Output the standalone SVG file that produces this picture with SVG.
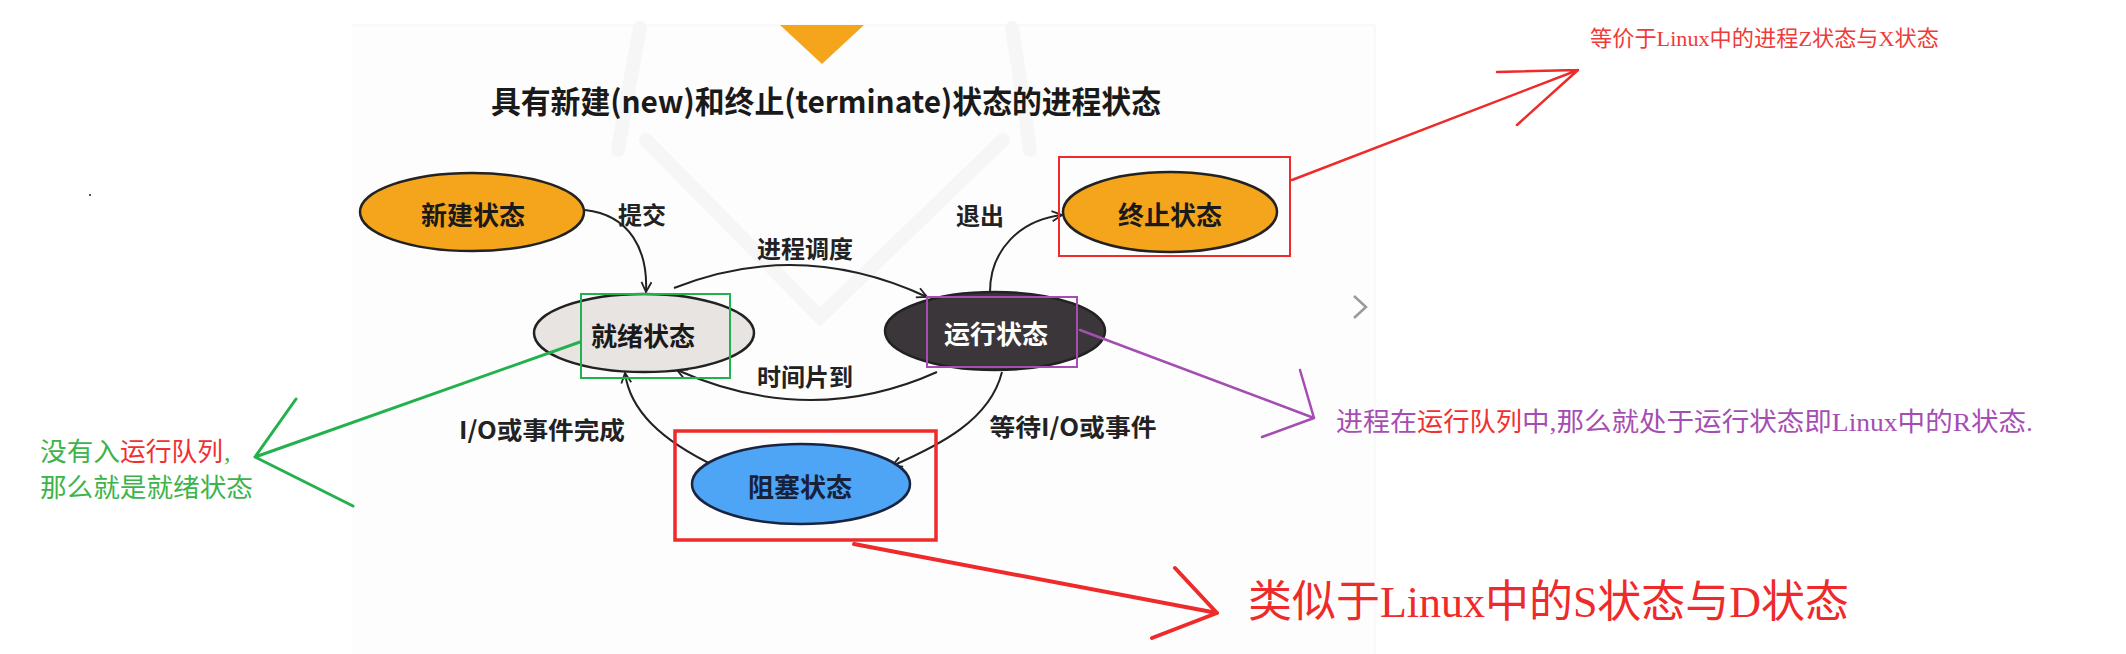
<svg xmlns="http://www.w3.org/2000/svg" width="2126" height="654" viewBox="0 0 2126 654">
<defs>
<style>
.node{stroke:#222;stroke-width:2.5}
.nt{font-family:"Noto Sans CJK SC","Noto Sans",sans-serif;font-weight:700;font-size:26px;text-anchor:middle;dominant-baseline:central;fill:#1a1a1a}
.lbl{font-family:"Noto Sans CJK SC","Noto Sans",sans-serif;font-weight:700;font-size:24px;text-anchor:middle;dominant-baseline:central;fill:#222}
.con{fill:none;stroke:#222;stroke-width:2}
.ann{font-family:"Liberation Serif","Noto Sans CJK SC",serif;dominant-baseline:central}
.pen{fill:none;stroke-linecap:round;stroke-linejoin:round}
</style>
<marker id="ah" viewBox="0 0 12 12" refX="11" refY="6" markerWidth="12" markerHeight="12" markerUnits="userSpaceOnUse" orient="auto">
<path d="M1,1 L11,6 L1,11" fill="none" stroke="#222" stroke-width="1.8"/>
</marker>
</defs>
<rect width="2126" height="654" fill="#ffffff"/>
<!-- screenshot panel -->
<rect x="352" y="25" width="1023" height="629" fill="#fdfdfd"/>
<line x1="352" y1="25" x2="1375" y2="25" stroke="#f2f2f2" stroke-width="1"/>
<line x1="1375" y1="25" x2="1375" y2="654" stroke="#f3f3f3" stroke-width="1"/>
<!-- faint watermark -->
<g fill="none" stroke="#f6f6f6" stroke-width="14" stroke-linecap="round">
<polyline points="646,140 820,317 1003,140"/>
<path d="M640,28 Q628,90 618,150"/>
<path d="M1012,28 Q1022,90 1030,150"/>
</g>
<polygon points="780,25 864,25 822,64" fill="#f5a51c"/>
<text x="491" y="99" font-family="Noto Sans CJK SC,Noto Sans,sans-serif" font-weight="700" font-size="31" fill="#1a1a1a" dominant-baseline="central" textLength="670" lengthAdjust="spacingAndGlyphs">具有新建(new)和终止(terminate)状态的进程状态</text>
<polyline points="1354,296 1366,307 1354,318" fill="none" stroke="#9a9a9a" stroke-width="2.5"/>
<rect x="89" y="194" width="2" height="2" fill="#555"/>

<g id="connectors">
<path class="con" d="M585,210 C630,215 648,250 646,292" marker-end="url(#ah)"/>
<path class="con" d="M674,288 Q800,238 927,297" marker-end="url(#ah)"/>
<path class="con" d="M937,372 Q810,429 677,370" marker-end="url(#ah)"/>
<path class="con" d="M990,292 C990,250 1020,220 1062,215" marker-end="url(#ah)"/>
<path class="con" d="M1002,372 C990,420 940,445 892,466" marker-end="url(#ah)"/>
<path class="con" d="M717,467 C660,440 630,410 625,373" marker-end="url(#ah)"/>
<text class="lbl" x="642" y="213">提交</text>
<text class="lbl" x="805" y="247">进程调度</text>
<text class="lbl" x="805" y="375">时间片到</text>
<text class="lbl" x="980" y="214">退出</text>
<text class="lbl" x="1073" y="425" textLength="167" lengthAdjust="spacingAndGlyphs">等待I/O或事件</text>
<text class="lbl" x="542" y="428" textLength="166" lengthAdjust="spacingAndGlyphs">I/O或事件完成</text>
</g>

<g id="node-new">
<ellipse class="node" cx="472" cy="212" rx="112" ry="39" fill="#f5a51c"/>
<text class="nt" x="473" y="213">新建状态</text>
</g>
<g id="node-ready">
<ellipse class="node" cx="644" cy="333" rx="110" ry="39" fill="#e7e4e2"/>
<text class="nt" x="643" y="334">就绪状态</text>
</g>
<g id="node-running">
<ellipse class="node" cx="995" cy="331" rx="110" ry="39" fill="#3b3639"/>
<text class="nt" x="996" y="332" style="fill:#fff">运行状态</text>
</g>
<g id="node-terminate">
<ellipse class="node" cx="1170" cy="212" rx="107" ry="40" fill="#f5a51c"/>
<text class="nt" x="1170" y="213">终止状态</text>
</g>
<g id="node-blocked">
<ellipse class="node" cx="801" cy="484" rx="109" ry="40" fill="#4ea5f5" style="stroke:#1a2440"/>
<text class="nt" x="800" y="485" style="fill:#17213a">阻塞状态</text>
</g>

<g id="annotations">
<rect x="581" y="294" width="149" height="84" fill="none" stroke="#22b14c" stroke-width="2"/>
<rect x="927" y="297" width="150" height="70" fill="none" stroke="#a64db4" stroke-width="2"/>
<rect x="1059" y="157" width="231" height="99" fill="none" stroke="#ee2a2a" stroke-width="2"/>
<rect x="675" y="431" width="261" height="109" fill="none" stroke="#ee2a2a" stroke-width="3.5"/>

<path class="pen" d="M1292,180 L1578,70 M1497,72 L1578,70 L1517,125" stroke="#ee2a2a" stroke-width="2.5"/>
<path class="pen" d="M1080,330 L1314,418 M1300,370 L1314,418 L1262,437" stroke="#a64db4" stroke-width="2.5"/>
<path class="pen" d="M580,342 L255,457 M296,399 L255,457 L353,506" stroke="#22b14c" stroke-width="3"/>
<path class="pen" d="M854,544 L1217,613 M1175,568 L1217,613 L1152,638" stroke="#ee2a2a" stroke-width="4"/>

<text class="ann" x="1590" y="38" font-size="22" fill="#f03a3a" textLength="349" lengthAdjust="spacingAndGlyphs">等价于Linux中的进程Z状态与X状态</text>

<text class="ann" x="1336" y="422" font-size="26" fill="#a64db4" textLength="81" lengthAdjust="spacingAndGlyphs">进程在</text>
<text class="ann" x="1417" y="422" font-size="26" fill="#f03030" textLength="105" lengthAdjust="spacingAndGlyphs">运行队列</text>
<text class="ann" x="1522" y="422" font-size="26" fill="#a64db4" textLength="511" lengthAdjust="spacingAndGlyphs">中,那么就处于运行状态即Linux中的R状态.</text>

<text class="ann" x="40" y="452" font-size="26" fill="#3cb44b" textLength="80" lengthAdjust="spacingAndGlyphs">没有入</text>
<text class="ann" x="120" y="452" font-size="26" fill="#f03030" textLength="103" lengthAdjust="spacingAndGlyphs">运行队列</text>
<text class="ann" x="224" y="452" font-size="26" fill="#3cb44b">,</text>
<text class="ann" x="40" y="488" font-size="26" fill="#3cb44b" textLength="213" lengthAdjust="spacingAndGlyphs">那么就是就绪状态</text>

<text class="ann" x="1248" y="602" font-size="44" fill="#ee2a2a" textLength="601" lengthAdjust="spacingAndGlyphs">类似于Linux中的S状态与D状态</text>
</g>
</svg>
